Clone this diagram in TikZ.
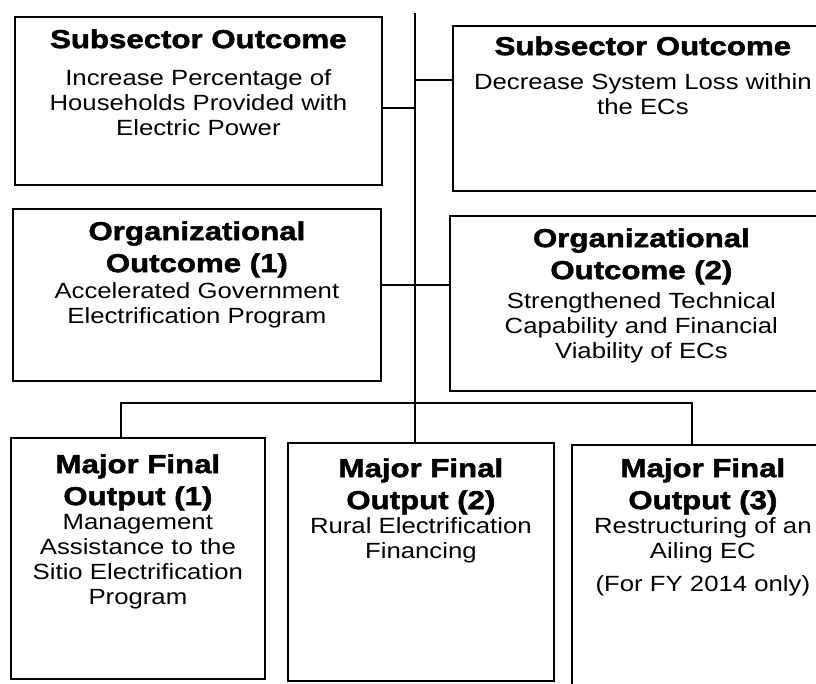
\documentclass[tikz,border=0pt]{standalone}
\usepackage{fontspec}
\setmainfont{Liberation Sans}[FakeStretch=1.17]
\newfontfamily\ttlfont{Liberation Sans}[FakeStretch=1.2, BoldFeatures={FakeBold=1.8}]
\usetikzlibrary{positioning}
\def\px{0.75pt}
\tikzset{
  box/.style  = {draw, line width=1.3pt, rectangle, inner sep=0pt,
                 anchor=north west},
  ttl/.style  = {align=center, inner sep=0pt,
                 font=\ttlfont\bfseries\fontsize{19.5}{24}\selectfont},
  txt/.style  = {align=center, inner sep=0pt,
                 font=\fontsize{16.5}{18.75}\selectfont},
  link/.style = {line width=0.9pt}
}

\begin{document}
\begin{tikzpicture}[x=0.75pt, y=-0.75pt]
	\useasboundingbox (0,0) rectangle (816,683);
	\clip (0,0) rectangle (816,683);
	
	% Boxes
	\node[box, minimum width=367*\px, minimum height=168*\px] (soL) at (14,16) {};  % subsector left
	\node[box, minimum width=380*\px, minimum height=165*\px] (soR) at (452,25) {}; % subsector right
	\node[box, minimum width=368*\px, minimum height=172*\px] (ooL) at (12,208) {}; % org. outcome 1
	\node[box, minimum width=383*\px, minimum height=175*\px] (ooR) at (449,215) {}; % org. outcome 2
	\node[box, minimum width=254*\px, minimum height=241*\px] (mfo1) at (10,437) {};
	\node[box, minimum width=266*\px, minimum height=238*\px] (mfo2) at (287,442) {};
	\node[box, minimum width=262*\px, minimum height=260*\px] (mfo3) at (571,444) {};
	
	% Trunk and junctions
	\coordinate (top) at (415,13);
	\coordinate (j1) at (415,108);
	\coordinate (j2) at (415,80);
	\coordinate (j3) at (415,285);
	\coordinate (bus) at (415,403);
	\coordinate (b1) at (121,403);
	\coordinate (b3) at (692,403);
	
	% Connectors
	\draw[link] (top) -- (top |- mfo2.north);
	\draw[link] (soL.east |- j1) -- (j1);
	\draw[link] (j2) -- (soR.west |- j2);
	\draw[link] (ooL.east |- j3) -- (j3);
	\draw[link] (j3) -- (ooR.west |- j3);
	\draw[link] (b1 |- mfo1.north) -- (b1) -- (bus) -- (b3) -- (b3 |- mfo3.north);
	
	% Subsector outcomes
	\node[ttl, below=13*\px of soL.north] (soLttl) {Subsector Outcome};
	\node[txt, below=53*\px of soL.north] (soLtxt) {Increase Percentage of\\Households Provided with\\Electric Power};
	\node[ttl, below=11*\px of soR.north] (soRttl) {Subsector Outcome};
	\node[txt, below=48*\px of soR.north] (soRtxt) {Decrease System Loss within\\the ECs};
	
	% Organizational outcomes
	\node[ttl, below=13*\px of ooL.north] (ooLttl) {Organizational\\Outcome (1)};
	\node[txt, below=74*\px of ooL.north] (ooLtxt) {Accelerated Government\\Electrification Program};
	\node[ttl, below=13*\px of ooR.north] (ooRttl) {Organizational\\Outcome (2)};
	\node[txt, below=77*\px of ooR.north] (ooRtxt) {Strengthened Technical\\Capability and Financial\\Viability of ECs};
	
	% Major final outputs
	\node[ttl, below=17*\px of mfo1.north] (mfo1ttl) {Major Final\\Output (1)};
	\node[txt, below=77*\px of mfo1.north] (mfo1txt) {Management\\Assistance to the\\Sitio Electrification\\Program};
	\node[ttl, below=16*\px of mfo2.north] (mfo2ttl) {Major Final\\Output (2)};
	\node[txt, below=75*\px of mfo2.north] (mfo2txt) {Rural Electrification\\Financing};
	\node[ttl, below=14*\px of mfo3.north] (mfo3ttl) {Major Final\\Output (3)};
	\node[txt, below=73*\px of mfo3.north] (mfo3txt) {Restructuring of an\\Ailing EC\\[6pt](For FY 2014 only)};
	
\end{tikzpicture}
\end{document}
